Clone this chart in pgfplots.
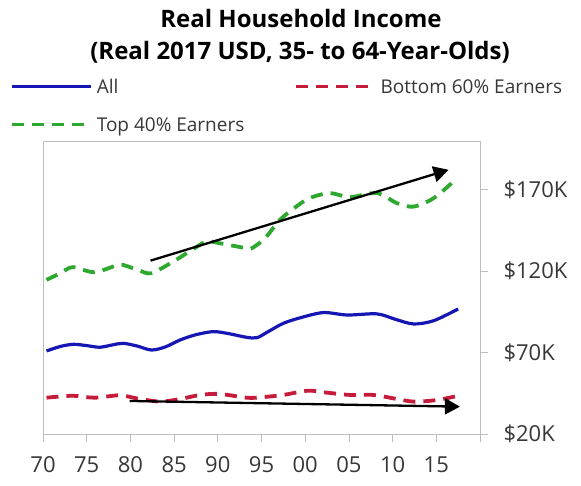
\documentclass[border=0pt]{standalone}
\usepackage{pgfplots}
\pgfplotsset{compat=1.18}
\usepackage{fontspec}
\setmainfont{Open Sans}
\usetikzlibrary{arrows.meta}
\definecolor{cblue}{RGB}{22,22,180}
\definecolor{cred}{RGB}{196,28,58}
\definecolor{cgreen}{RGB}{46,168,46}
\definecolor{cgrid}{RGB}{190,190,190}
\definecolor{ctext}{RGB}{55,55,55}
\begin{document}
\begin{tikzpicture}
\begin{axis}[
  at={(43pt,-434pt)}, anchor=south west,
  width=437pt, height=293pt, scale only axis,
  xmin=1970, xmax=2020, ymin=20, ymax=200,
  xtick={1970,1975,...,2020},
  xticklabels={70,75,80,85,90,95,00,05,10,15,{}},
  ytick={20,70,120,170},
  yticklabels={\$20K,\$70K,\$120K,\$170K},
  xtick pos=left, ytick pos=right, yticklabel pos=right,
  tick align=outside, major tick length=8pt,
  axis line style={cgrid, line width=0.8pt},
  tick style={cgrid, line width=0.8pt},
  tick label style={font=\fontsize{22}{26}\selectfont, text=ctext},
  yticklabel style={anchor=west, xshift=12pt},
  xticklabel style={yshift=-11pt},
  legend columns=2,
  legend cell align=left,
  legend image code/.code={\draw[#1] (0pt,0pt) -- (79pt,0pt);},
  legend style={draw=none, fill=none, inner sep=0pt, outer sep=0pt,
    at={(-0.0755,1.2099)}, anchor=north west,
    font=\fontsize{19}{23}\selectfont, text=ctext,
    nodes={inner sep=0pt, text height=14pt, text depth=0pt},
    row sep=24pt,
    /tikz/every odd column/.append style={column sep=4pt},
    /tikz/every even column/.append style={column sep=7pt}},
]
\addplot[cblue, line width=3.2pt, smooth, tension=0.5] coordinates {
(1970.4,71.0) (1972,73.8) (1973.5,75.1) (1975,74.3) (1976.5,73.3) (1978,74.8)
(1979.2,75.7) (1980.8,74.0) (1982.4,71.6) (1984,73.5) (1985.7,77.8) (1987.5,81.0)
(1989.5,82.9) (1991.3,81.6) (1993.3,79.4) (1994.5,79.2) (1995.8,83.0) (1997.5,88.0)
(1999.5,91.5) (2002.1,94.6) (2004.8,93.1) (2008.2,93.8) (2010.3,90.5) (2012.4,87.6)
(2014.7,89.6) (2017.5,96.8)};
\addlegendentry{\makebox[190pt][l]{All}}
\addplot[cred, line width=3.8pt, dash pattern=on 12pt off 8pt, smooth, tension=0.5] coordinates {
(1970.4,42.3) (1973.4,43.5) (1975.9,42.3) (1978.8,43.8) (1980.7,41.9) (1983.4,39.9)
(1985.7,41.5) (1988,44.0) (1990.2,44.6) (1993.3,42.3) (1994.8,42.5) (1997.5,44.0)
(2000.3,46.6) (2002.5,45.4) (2005.1,44.0) (2007.8,44.0) (2010.1,41.9) (2012.4,39.9)
(2015.1,40.9) (2017.5,43.5)};
\addlegendentry{Bottom 60\% Earners}
\addplot[cgreen, line width=3.8pt, dash pattern=on 12pt off 8pt, smooth, tension=0.5] coordinates {
(1970.4,114.7) (1972,118.8) (1973.4,122.5) (1975.9,119.4) (1978.6,123.9) (1979.5,123.3)
(1981,120.5) (1982.4,118.8) (1984.9,125.9) (1987,133.0) (1988.7,138.2) (1990.2,137.2)
(1993.3,134.1) (1993.9,134.1) (1995.4,140.3) (1997.1,151.5) (1998.8,159.0) (2000.5,164.9)
(2002.8,168.0) (2005.1,165.5) (2008.2,168.0) (2010.5,161.8) (2012.4,159.7) (2014.7,164.9)
(2017.4,177.2)};
\addlegendentry{\makebox[190pt][l]{Top 40\% Earners}}
\addplot[black, line width=2.3pt, -{Triangle[length=15pt,width=16pt]}, forget plot]
  coordinates {(1982.3,126.5) (2016.4,182.3)};
\addplot[black, line width=2.3pt, -{Triangle[length=15pt,width=16pt]}, forget plot]
  coordinates {(1979.9,40.3) (2017.7,36.8)};
\end{axis}
\node[anchor=base, font=\fontsize{24}{29}\selectfont\bfseries] at (301pt,-28pt) {Real Household Income};
\node[anchor=base, font=\fontsize{24}{29}\selectfont\bfseries] at (300pt,-60pt) {(Real 2017 USD, 35- to 64-Year-Olds)};
\pgfresetboundingbox
\path[use as bounding box] (0pt,0pt) rectangle (581pt,-486pt);
\end{tikzpicture}
\end{document}
